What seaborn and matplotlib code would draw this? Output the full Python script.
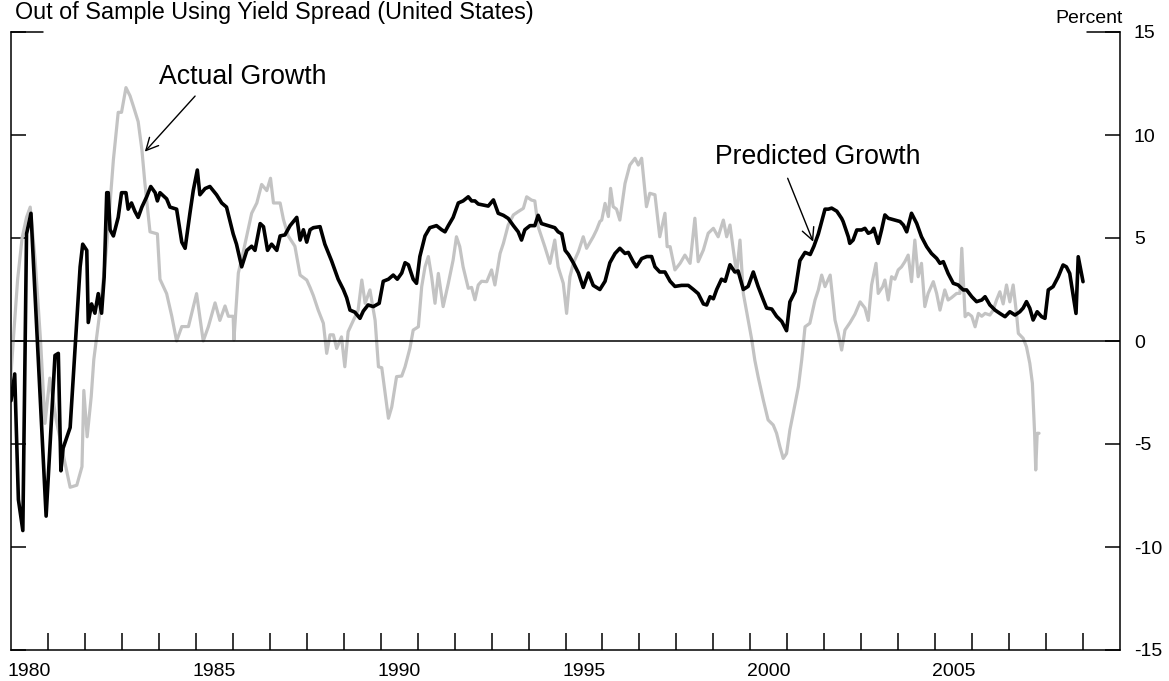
import matplotlib
matplotlib.use("Agg")
import matplotlib.pyplot as plt
import matplotlib.lines as mlines
import seaborn as sns
import pandas as pd

# ---- data: 12-month industrial growth, percent ----
pred_years = [
    1980.00, 1980.10, 1980.20, 1980.32, 1980.42, 1980.54, 1980.95, 1981.19, 1981.28, 1981.35,
    1981.41, 1981.60, 1981.87, 1981.94, 1982.05, 1982.09, 1982.18, 1982.27, 1982.36, 1982.45,
    1982.52, 1982.59, 1982.63, 1982.68, 1982.77, 1982.90, 1982.99, 1983.11, 1983.17, 1983.26,
    1983.35, 1983.44, 1983.54, 1983.67, 1983.78, 1983.90, 1983.96, 1984.03, 1984.21, 1984.30,
    1984.48, 1984.62, 1984.71, 1984.84, 1984.93, 1985.04, 1985.11, 1985.25, 1985.38, 1985.56,
    1985.70, 1985.83, 1986.01, 1986.10, 1986.24, 1986.38, 1986.51, 1986.60, 1986.74, 1986.83,
    1986.94, 1987.05, 1987.19, 1987.28, 1987.41, 1987.55, 1987.73, 1987.82, 1987.91, 1988.00,
    1988.09, 1988.18, 1988.36, 1988.49, 1988.67, 1988.85, 1988.99, 1989.08, 1989.17, 1989.30,
    1989.44, 1989.53, 1989.66, 1989.80, 1989.96, 1990.07, 1990.21, 1990.34, 1990.45, 1990.57,
    1990.66, 1990.75, 1990.88, 1990.97, 1991.06, 1991.20, 1991.33, 1991.51, 1991.65, 1991.74,
    1991.83, 1991.96, 1992.10, 1992.23, 1992.37, 1992.46, 1992.55, 1992.64, 1992.77, 1992.91,
    1993.05, 1993.18, 1993.32, 1993.45, 1993.59, 1993.72, 1993.81, 1993.90, 1994.04, 1994.17,
    1994.26, 1994.35, 1994.53, 1994.71, 1994.80, 1994.90, 1994.99, 1995.08, 1995.21, 1995.35,
    1995.48, 1995.62, 1995.75, 1995.93, 1996.07, 1996.20, 1996.34, 1996.47, 1996.61, 1996.70,
    1996.83, 1996.92, 1997.06, 1997.20, 1997.33, 1997.42, 1997.55, 1997.69, 1997.83, 1997.96,
    1998.14, 1998.32, 1998.46, 1998.59, 1998.73, 1998.82, 1998.91, 1999.00, 1999.09, 1999.22,
    1999.32, 1999.45, 1999.58, 1999.67, 1999.81, 1999.94, 2000.08, 2000.21, 2000.35, 2000.44,
    2000.58, 2000.71, 2000.85, 2000.98, 2001.07, 2001.21, 2001.34, 2001.48, 2001.62, 2001.72,
    2001.84, 2002.02, 2002.11, 2002.20, 2002.34, 2002.47, 2002.51, 2002.65, 2002.69, 2002.78,
    2002.88, 2003.01, 2003.10, 2003.19, 2003.28, 2003.34, 2003.40, 2003.46, 2003.55, 2003.64,
    2003.73, 2003.91, 2004.05, 2004.14, 2004.23, 2004.36, 2004.50, 2004.63, 2004.77, 2004.90,
    2005.04, 2005.13, 2005.22, 2005.35, 2005.49, 2005.62, 2005.76, 2005.85, 2005.99, 2006.12,
    2006.26, 2006.35, 2006.48, 2006.62, 2006.75, 2006.89, 2007.02, 2007.16, 2007.29, 2007.38,
    2007.47, 2007.56, 2007.65, 2007.76, 2007.88, 2007.97, 2008.06, 2008.19, 2008.33, 2008.46,
    2008.55, 2008.64, 2008.81, 2008.87, 2009.00,
]
pred_values = [
    -2.9, -1.6, -7.7, -9.2, 5.2, 6.2, -8.5, -0.7, -0.6, -6.3,
    -5.2, -4.2, 3.6, 4.7, 4.4, 0.9, 1.8, 1.35, 2.3, 1.35,
    3.1, 7.2, 7.2, 5.4, 5.1, 6.0, 7.2, 7.2, 6.4, 6.7,
    6.3, 6.0, 6.5, 7.0, 7.5, 7.2, 6.8, 7.2, 6.9, 6.5,
    6.4, 4.8, 4.5, 6.2, 7.3, 8.3, 7.1, 7.4, 7.5, 7.1,
    6.7, 6.5, 5.2, 4.7, 3.6, 4.4, 4.6, 4.4, 5.7, 5.55,
    4.4, 4.7, 4.4, 5.1, 5.15, 5.6, 6.0, 4.9, 5.4, 4.8,
    5.4, 5.5, 5.55, 4.7, 3.9, 3.0, 2.5, 2.1, 1.5, 1.4,
    1.1, 1.45, 1.75, 1.67, 1.83, 2.9, 3.0, 3.2, 3.0, 3.3,
    3.8, 3.7, 3.0, 2.8, 4.1, 5.1, 5.5, 5.6, 5.4, 5.3,
    5.6, 6.0, 6.7, 6.8, 7.0, 6.8, 6.8, 6.65, 6.6, 6.55,
    6.85, 6.2, 6.1, 5.95, 5.6, 5.3, 4.9, 5.4, 5.6, 5.6,
    6.1, 5.7, 5.6, 5.5, 5.3, 5.2, 4.4, 4.2, 3.8, 3.3,
    2.6, 3.3, 2.7, 2.5, 2.9, 3.8, 4.25, 4.5, 4.25, 4.3,
    3.85, 3.6, 4.0, 4.1, 4.1, 3.6, 3.35, 3.35, 2.9, 2.65,
    2.7, 2.7, 2.5, 2.3, 1.8, 1.75, 2.15, 2.05, 2.5, 3.0,
    2.9, 3.7, 3.35, 3.4, 2.5, 2.65, 3.35, 2.65, 2.0, 1.6,
    1.55, 1.2, 0.95, 0.5, 1.9, 2.4, 3.9, 4.3, 4.2, 4.6,
    5.2, 6.4, 6.4, 6.45, 6.3, 5.95, 5.8, 5.06, 4.74, 4.9,
    5.39, 5.39, 5.47, 5.23, 5.3, 5.47, 5.1, 4.74, 5.39, 6.12,
    5.96, 5.87, 5.8, 5.63, 5.3, 6.2, 5.71, 5.06, 4.58, 4.25,
    4.01, 3.77, 3.85, 3.28, 2.8, 2.72, 2.48, 2.48, 2.15, 1.91,
    1.99, 2.15, 1.75, 1.5, 1.34, 1.18, 1.42, 1.26, 1.42, 1.6,
    1.91, 1.59, 1.02, 1.42, 1.18, 1.1, 2.48, 2.64, 3.12, 3.69,
    3.6, 3.28, 1.34, 4.09, 2.88,
]

actual_years = [
    1980.00, 1980.08, 1980.18, 1980.30, 1980.42, 1980.52, 1980.65, 1980.80, 1980.92, 1981.05,
    1981.22, 1981.41, 1981.60, 1981.78, 1981.92, 1981.97, 1982.06, 1982.17, 1982.24, 1982.41,
    1982.59, 1982.77, 1982.90, 1982.99, 1983.11, 1983.22, 1983.31, 1983.44, 1983.54, 1983.62,
    1983.76, 1983.96, 1984.03, 1984.21, 1984.35, 1984.48, 1984.62, 1984.80, 1985.02, 1985.20,
    1985.34, 1985.52, 1985.65, 1985.79, 1985.88, 1986.01, 1986.03, 1986.15, 1986.28, 1986.51,
    1986.65, 1986.78, 1986.92, 1987.02, 1987.10, 1987.28, 1987.37, 1987.50, 1987.68, 1987.82,
    1988.00, 1988.09, 1988.18, 1988.31, 1988.45, 1988.54, 1988.63, 1988.72, 1988.81, 1988.94,
    1989.03, 1989.12, 1989.26, 1989.39, 1989.49, 1989.58, 1989.71, 1989.85, 1989.94, 1990.03,
    1990.12, 1990.21, 1990.30, 1990.43, 1990.57, 1990.66, 1990.79, 1990.88, 1991.02, 1991.11,
    1991.20, 1991.29, 1991.38, 1991.47, 1991.56, 1991.69, 1991.83, 1991.96, 1992.05, 1992.14,
    1992.23, 1992.37, 1992.46, 1992.55, 1992.64, 1992.73, 1992.87, 1993.00, 1993.09, 1993.23,
    1993.32, 1993.45, 1993.59, 1993.72, 1993.86, 1993.95, 1994.08, 1994.17, 1994.26, 1994.35,
    1994.44, 1994.58, 1994.71, 1994.80, 1994.94, 1995.03, 1995.12, 1995.21, 1995.35, 1995.48,
    1995.57, 1995.75, 1995.84, 1995.93, 1995.98, 1996.07, 1996.16, 1996.22, 1996.29, 1996.38,
    1996.47, 1996.61, 1996.74, 1996.88, 1996.97, 1997.06, 1997.19, 1997.28, 1997.42, 1997.55,
    1997.69, 1997.75, 1997.83, 1997.96, 1998.10, 1998.23, 1998.37, 1998.50, 1998.59, 1998.73,
    1998.86, 1999.00, 1999.13, 1999.27, 1999.36, 1999.45, 1999.54, 1999.63, 1999.72, 1999.81,
    1999.94, 2000.04, 2000.12, 2000.21, 2000.35, 2000.48, 2000.62, 2000.71, 2000.80, 2000.89,
    2000.98, 2001.07, 2001.16, 2001.30, 2001.39, 2001.48, 2001.61, 2001.75, 2001.84, 2001.93,
    2002.02, 2002.16, 2002.29, 2002.38, 2002.47, 2002.56, 2002.70, 2002.83, 2002.97, 2003.10,
    2003.19, 2003.28, 2003.40, 2003.46, 2003.58, 2003.64, 2003.73, 2003.82, 2003.91, 2004.00,
    2004.09, 2004.18, 2004.27, 2004.36, 2004.45, 2004.54, 2004.63, 2004.72, 2004.81, 2004.95,
    2005.04, 2005.13, 2005.26, 2005.35, 2005.44, 2005.58, 2005.67, 2005.72, 2005.81, 2005.89,
    2005.99, 2006.08, 2006.17, 2006.26, 2006.35, 2006.48, 2006.57, 2006.66, 2006.75, 2006.84,
    2006.93, 2007.02, 2007.11, 2007.20, 2007.25, 2007.38, 2007.47, 2007.56, 2007.63, 2007.69,
    2007.72, 2007.76, 2007.81,
]
actual_values = [
    -1.6, 0.5, 3.0, 5.0, 6.0, 6.5, 4.0, 0.0, -4.0, -1.8,
    -3.8, -5.5, -7.1, -7.0, -6.1, -2.4, -4.65, -2.7, -0.9, 1.5,
    4.6, 8.8, 11.1, 11.1, 12.3, 11.9, 11.4, 10.65, 9.3, 7.7,
    5.3, 5.2, 3.0, 2.3, 1.2, 0.0, 0.7, 0.7, 2.3, 0.0,
    0.7, 1.85, 1.0, 1.7, 1.2, 1.2, 0.05, 3.3, 4.3, 6.2,
    6.7, 7.6, 7.3, 7.9, 6.7, 6.7, 5.9, 5.1, 4.6, 3.2,
    2.96, 2.6, 2.2, 1.5, 0.86, -0.6, 0.3, 0.3, -0.36, 0.2,
    -1.25, 0.45, 1.0, 1.5, 2.96, 1.83, 2.48, 1.0, -1.25, -1.3,
    -2.54, -3.75, -3.2, -1.73, -1.7, -1.25, -0.36, 0.53, 0.69, 2.64,
    3.6, 4.1, 3.1, 1.83, 3.28, 1.67, 2.8, 3.93, 5.06, 4.58,
    3.6, 2.56, 2.6, 2.0, 2.72, 2.9, 2.88, 3.45, 2.72, 4.25,
    4.74, 5.63, 6.12, 6.28, 6.44, 7.0, 6.84, 6.8, 5.55, 5.06,
    4.58, 3.77, 4.9, 3.6, 2.8, 1.34, 3.12, 3.77, 4.34, 5.06,
    4.5, 5.06, 5.39, 5.8, 5.87, 6.68, 6.04, 7.41, 6.52, 6.4,
    5.87, 7.65, 8.54, 8.87, 8.54, 8.87, 6.52, 7.17, 7.1, 5.06,
    6.2, 4.58, 4.58, 3.45, 3.77, 4.17, 3.77, 5.96, 3.85, 4.42,
    5.23, 5.47, 5.06, 5.87, 5.06, 5.63, 4.42, 3.28, 4.9, 2.31,
    1.02, 0.05, -0.92, -1.73, -2.86, -3.83, -4.08, -4.48, -5.13, -5.7,
    -5.46, -4.32, -3.51, -2.22, -0.92, 0.69, 0.86, 1.99, 2.48, 3.2,
    2.64, 3.2, 1.02, 0.36, -0.44, 0.53, 0.9, 1.3, 1.9, 1.6,
    1.0, 2.72, 3.77, 2.31, 2.64, 2.96, 1.99, 3.12, 3.0, 3.45,
    3.6, 3.85, 4.17, 2.88, 4.9, 3.12, 3.77, 1.67, 2.31, 2.88,
    2.31, 1.5, 2.48, 1.99, 2.1, 2.31, 2.31, 4.5, 1.18, 1.34,
    1.2, 0.69, 1.34, 1.2, 1.34, 1.26, 1.5, 1.99, 2.39, 1.8,
    2.72, 1.9, 2.72, 1.34, 0.37, 0.13, -0.28, -1.08, -2.05, -4.48,
    -6.26, -4.48, -4.48,
]

y_ticks = [15, 10, 5, 0, -5, -10, -15]
year_labels = [1980, 1985, 1990, 1995, 2000, 2005]

pred = pd.DataFrame({"year": pred_years, "growth": pred_values})
actual = pd.DataFrame({"year": actual_years, "growth": actual_values})

sns.set_style("white")
plt.rcParams["font.family"] = ["Liberation Sans", "DejaVu Sans"]
plt.rcParams["text.color"] = "black"
plt.rcParams["xtick.color"] = "black"
plt.rcParams["ytick.color"] = "black"
plt.rcParams["axes.labelcolor"] = "black"

fig = plt.figure(figsize=(11.69, 6.81), dpi=100)
ax = fig.add_axes([11 / 1169, 1 - 650 / 681, 1109 / 1169, 618 / 681])

sns.lineplot(data=actual, x="year", y="growth", ax=ax, color="#c3c3c3",
             linewidth=2.3, sort=False, estimator=None, zorder=2)
ax.axhline(0, color="black", linewidth=1.1, zorder=3)
sns.lineplot(data=pred, x="year", y="growth", ax=ax, color="black",
             linewidth=2.6, sort=False, estimator=None, zorder=4)

ax.set_xlim(1980, 2010)
ax.set_ylim(-15, 15)
ax.set_xlabel("")
ax.set_ylabel("")

# year boundaries as inward ticks, year names centred inside each year
ax.set_xticks(list(range(1981, 2010)))
ax.set_xticklabels([])
ax.set_xticks([y + 0.5 for y in year_labels], minor=True)
ax.set_xticklabels([str(y) for y in year_labels], minor=True)
ax.tick_params(axis="x", which="major", direction="in", length=12, width=1.1,
               color="black", bottom=True)
ax.tick_params(axis="x", which="minor", length=0, pad=9, labelsize=14,
               labelcolor="black")

ax.set_yticks(y_ticks)
ax.set_yticklabels([str(v) for v in y_ticks])
ax.tick_params(axis="y", direction="in", length=11, width=1.1, color="black",
               left=True, right=True, labelleft=False, labelright=True,
               pad=10, labelsize=14, labelcolor="black")

for side in ["left", "right", "bottom"]:
    ax.spines[side].set_visible(True)
    ax.spines[side].set_color("black")
    ax.spines[side].set_linewidth(1.1)
ax.spines["top"].set_visible(False)

# short caps at the top of each vertical axis
for x0, x1 in [(0.0, 32 / 1109), (1 - 33 / 1109, 1.0)]:
    ax.add_line(mlines.Line2D([x0, x1], [1, 1], transform=ax.transAxes,
                              color="black", linewidth=1.1, clip_on=False))

# series labels with pointers
ax.text(1984.0, 12.48, "Actual Growth", fontsize=19.2, ha="left", va="baseline",
        color="black")
ax.annotate("", xy=(1983.62, 9.19), xytext=(1984.98, 11.89),
            arrowprops=dict(arrowstyle="->", color="black", lw=1.0,
                            mutation_scale=22, shrinkA=0, shrinkB=0))
ax.text(1999.04, 8.59, "Predicted Growth", fontsize=19.2, ha="left", va="baseline",
        color="black")
ax.annotate("", xy=(2001.70, 4.82), xytext=(2001.01, 7.90),
            arrowprops=dict(arrowstyle="->", color="black", lw=1.0,
                            mutation_scale=22, shrinkA=0, shrinkB=0))

fig.text(1123 / 1169, 1 - 23 / 681, "Percent", fontsize=14, ha="right",
         va="baseline", color="black")
fig.text(15 / 1169, 1 - 19 / 681, "Out of Sample Using Yield Spread (United States)",
         fontsize=16.8, ha="left", va="baseline", color="black")

fig.savefig("out.png", dpi=100)
